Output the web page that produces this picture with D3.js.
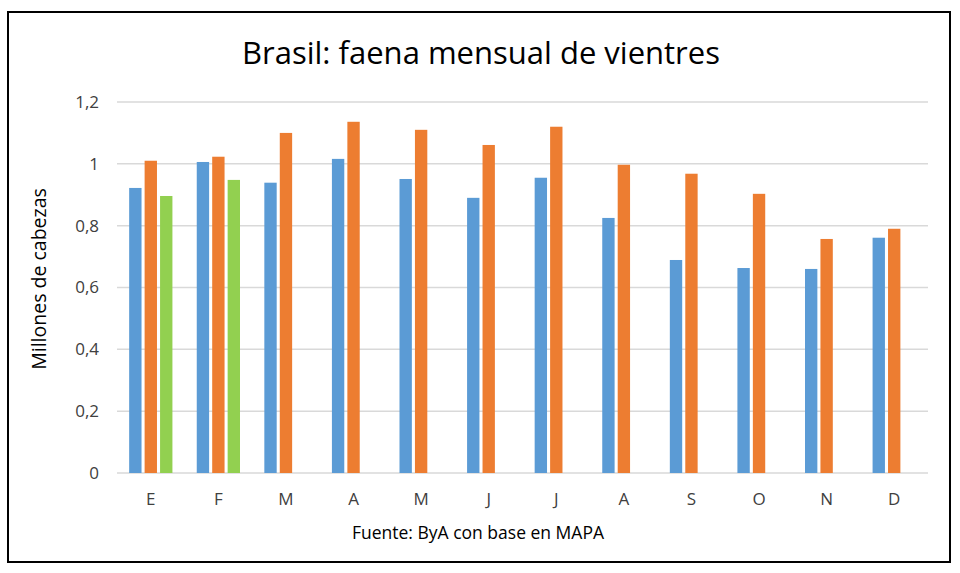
<!DOCTYPE html>
<html>
<head>
<meta charset="utf-8">
<script src="https://cdn.jsdelivr.net/npm/d3@7"></script>
<style>
  body { margin: 0; background: #fff; }
  text { font-family: "Open Sans", sans-serif; fill: #404040; }
  .grid line { stroke: #d9d9d9; stroke-width: 1.5; }
</style>
</head>
<body>
<svg id="chart" width="960" height="573"></svg>
<script>
// months and the three series (millions of head)
const months = ["E", "F", "M", "A", "M", "J", "J", "A", "S", "O", "N", "D"];
const serieA = [0.922, 1.006, 0.939, 1.016, 0.951, 0.890, 0.955, 0.825, 0.689, 0.663, 0.660, 0.761];
const serieB = [1.010, 1.023, 1.100, 1.136, 1.110, 1.061, 1.120, 0.997, 0.968, 0.903, 0.757, 0.790];
const serieC = [0.896, 0.948];
const yTicks = [0, 0.2, 0.4, 0.6, 0.8, 1, 1.2];

const series = [
  { name: "A", values: serieA, color: "#5B9BD5" },
  { name: "B", values: serieB, color: "#ED7D31" },
  { name: "C", values: serieC, color: "#92D050" }
];

const svg = d3.select("#chart");

// outer frame
svg.append("rect")
  .attr("x", 8).attr("y", 12)
  .attr("width", 942).attr("height", 550)
  .attr("fill", "none")
  .attr("stroke", "#000")
  .attr("stroke-width", 2);

const margin = { top: 102, left: 117, right: 32, bottom: 100 };
const width = 960 - margin.left - margin.right;
const height = 573 - margin.top - margin.bottom;

const g = svg.append("g").attr("transform", `translate(${margin.left},${margin.top})`);

// x: index based so the repeated month letters stay separate
const x = d3.scaleBand()
  .domain(d3.range(months.length))
  .range([0, width])
  .paddingInner(0.36)
  .paddingOuter(0.18);

const xSub = d3.scaleBand()
  .domain(series.map(s => s.name))
  .range([0, x.bandwidth()])
  .paddingInner(0.2);

const y = d3.scaleLinear().domain([0, 1.2]).range([height, 0]);

// gridlines
g.append("g")
  .attr("class", "grid")
  .selectAll("line")
  .data(yTicks)
  .enter()
  .append("line")
  .attr("x1", 0).attr("x2", width)
  .attr("y1", d => y(d)).attr("y2", d => y(d));

// y axis labels
const yAxis = g.append("g")
  .call(d3.axisLeft(y).tickValues(yTicks).tickSize(0).tickPadding(18)
    .tickFormat(d => String(d).replace(".", ",")));
yAxis.select(".domain").remove();
yAxis.selectAll("text").style("font-size", "17px").attr("fill", "#404040");

// bars
series.forEach(s => {
  g.append("g")
    .selectAll("rect")
    .data(s.values)
    .enter()
    .append("rect")
    .attr("x", (d, i) => x(i) + xSub(s.name))
    .attr("y", d => y(d))
    .attr("width", xSub.bandwidth())
    .attr("height", d => height - y(d))
    .attr("fill", s.color);
});

// x axis labels
const xAxis = g.append("g")
  .attr("transform", `translate(0,${height})`)
  .call(d3.axisBottom(x).tickSize(0).tickPadding(20).tickFormat(i => months[i]));
xAxis.select(".domain").remove();
xAxis.selectAll("text").style("font-size", "17px").attr("fill", "#404040");

// title
svg.append("text")
  .attr("x", 481).attr("y", 64)
  .attr("text-anchor", "middle")
  .style("font-size", "31px")
  .style("fill", "#000")
  .text("Brasil: faena mensual de vientres");

// y axis title
svg.append("text")
  .attr("transform", "translate(46,279) rotate(-90)")
  .attr("text-anchor", "middle")
  .style("font-size", "19.5px")
  .style("fill", "#000")
  .text("Millones de cabezas");

// source
svg.append("text")
  .attr("x", 478).attr("y", 539)
  .attr("text-anchor", "middle")
  .style("font-size", "17.5px")
  .style("fill", "#000")
  .text("Fuente: ByA con base en MAPA");
</script>
</body>
</html>
